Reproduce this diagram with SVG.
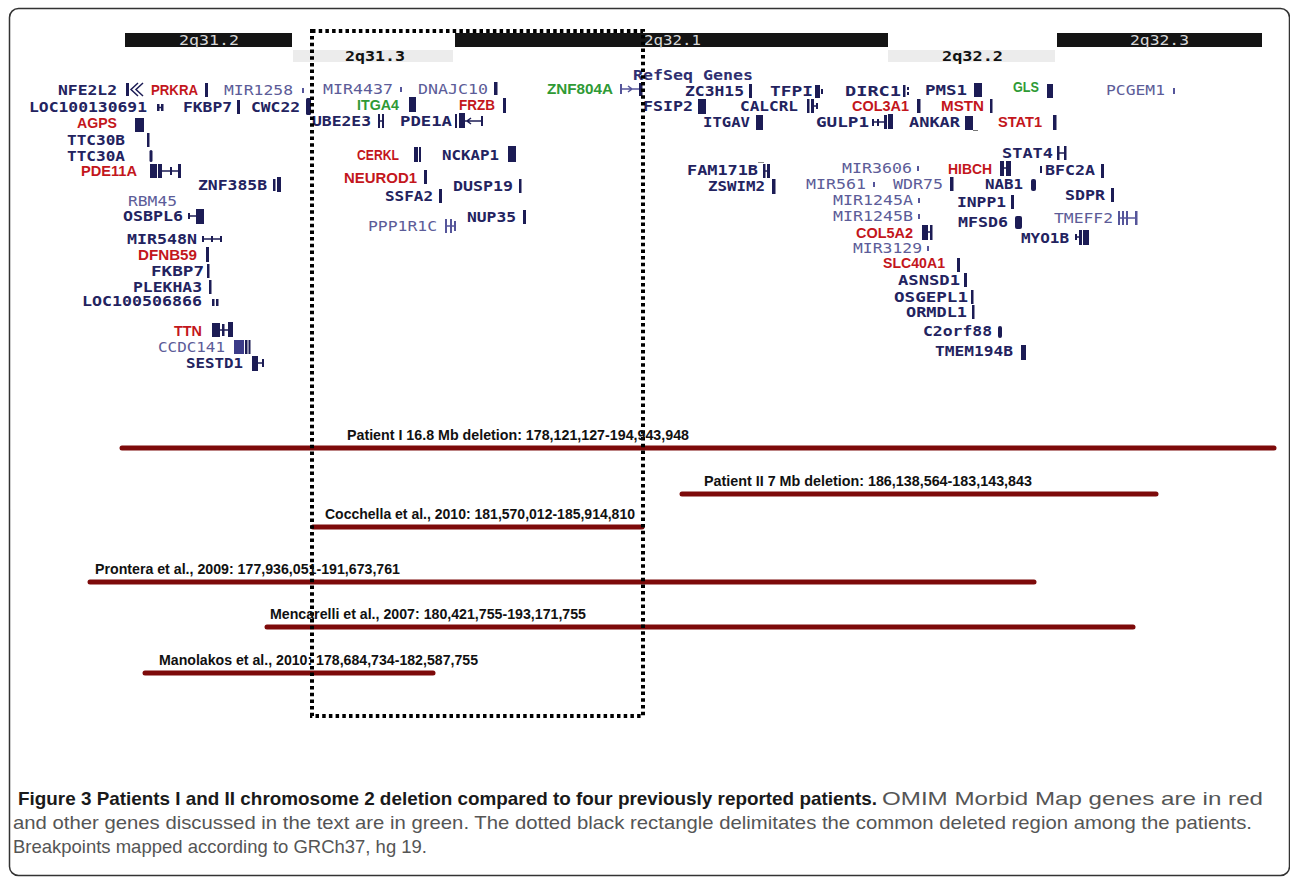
<svg xmlns="http://www.w3.org/2000/svg" width="1290" height="880" viewBox="0 0 1290 880">
<style>
.g{font-family:"DejaVu Sans Mono",monospace;font-weight:bold;font-size:14.5px;fill:#23235f}
.m{font-family:"DejaVu Sans Mono",monospace;font-size:14.5px;fill:#5c5c98}
.r{font-family:"Liberation Sans",Arial,sans-serif;font-weight:bold;font-size:15.5px;fill:#c3161c}
.gr{font-family:"Liberation Sans",Arial,sans-serif;font-weight:bold;font-size:15.5px;fill:#2f9a35}
.ic{fill:#1c1c55}
.icl{fill:#55559a}
.ln{stroke:#1c1c55;stroke-width:1.5;fill:none}
.lnl{stroke:#55559a;stroke-width:1.5;fill:none}
.band{fill:#141414}
.lband{fill:#ececec}
.bt{font-family:"DejaVu Sans Mono",monospace;font-size:14px;fill:#d8d8d8}
.bt2{font-family:"DejaVu Sans Mono",monospace;font-weight:bold;font-size:14px;fill:#111}
.del{stroke:#7d0a0a;stroke-width:5;stroke-linecap:round}
.dl{font-family:"Liberation Sans",Arial,sans-serif;font-weight:bold;font-size:15px;fill:#111}
.cb{font-family:"Liberation Sans",Arial,sans-serif;font-weight:bold;font-size:19px;fill:#1a1a1a}
.cr{font-family:"Liberation Sans",Arial,sans-serif;font-size:19px;fill:#555}
</style>
<rect x="9.5" y="8.5" width="1280" height="867" rx="9" fill="#fff" stroke="#333" stroke-width="1.5"/>

<g id="bands">
<rect class="band" x="125" y="33" width="167" height="14"/>
<text class="bt" x="179" y="45" textLength="60" lengthAdjust="spacingAndGlyphs">2q31.2</text>
<rect class="lband" x="293" y="50" width="160" height="12"/>
<text class="bt2" x="345" y="61" textLength="60" lengthAdjust="spacingAndGlyphs">2q31.3</text>
<rect class="band" x="455" y="33" width="433" height="14"/>
<text class="bt" x="644" y="45" textLength="57" lengthAdjust="spacingAndGlyphs">2q32.1</text>
<rect class="lband" x="888" y="50" width="167" height="12"/>
<text class="bt2" x="942" y="61" textLength="61" lengthAdjust="spacingAndGlyphs">2q32.2</text>
<rect class="band" x="1057" y="33" width="205" height="14"/>
<text class="bt" x="1130" y="45" textLength="59" lengthAdjust="spacingAndGlyphs">2q32.3</text>
</g>

<g id="genes-left">
<g id="gene-NFE2L2"><text class="g" x="58" y="95" textLength="59" lengthAdjust="spacingAndGlyphs">NFE2L2</text><rect class="ic" x="126" y="83" width="3" height="13"/><path class="ln" d="M138,83 L131,89.5 L138,96 M143,83 L136,89.5 L143,96"/></g>
<g id="gene-PRKRA"><text class="r" x="151" y="95" textLength="47" lengthAdjust="spacingAndGlyphs">PRKRA</text><rect class="ic" x="205" y="83" width="3" height="14"/></g>
<g id="gene-MIR1258"><text class="m" x="224" y="95" textLength="69" lengthAdjust="spacingAndGlyphs">MIR1258</text><rect class="icl" x="302" y="88" width="2" height="5"/></g>
<g id="gene-LOC100130691"><text class="g" x="29" y="112" textLength="118" lengthAdjust="spacingAndGlyphs">LOC100130691</text><rect class="ic" x="157" y="104" width="2.5" height="7"/><rect class="ic" x="161" y="104" width="2.5" height="7"/><path class="ln" d="M157,107.5 H163"/></g>
<g id="gene-FKBP7-a"><text class="g" x="183" y="112" textLength="49" lengthAdjust="spacingAndGlyphs">FKBP7</text><rect class="ic" x="237" y="100" width="3" height="14"/></g>
<g id="gene-CWC22"><text class="g" x="251" y="112" textLength="49" lengthAdjust="spacingAndGlyphs">CWC22</text><rect class="ic" x="306" y="98" width="5" height="17" rx="1.5"/></g>
<g id="gene-AGPS"><text class="r" x="77" y="128" textLength="40" lengthAdjust="spacingAndGlyphs">AGPS</text><rect class="ic" x="135" y="118" width="9" height="14"/></g>
<g id="gene-TTC30B"><text class="g" x="67" y="145" textLength="58" lengthAdjust="spacingAndGlyphs">TTC30B</text><rect class="ic" x="147" y="133" width="2.5" height="14"/></g>
<g id="gene-TTC30A"><text class="g" x="67" y="161" textLength="58" lengthAdjust="spacingAndGlyphs">TTC30A</text><rect class="ic" x="149.5" y="150" width="3" height="12" rx="1.5"/></g>
<g id="gene-PDE11A"><text class="r" x="81" y="176" textLength="56" lengthAdjust="spacingAndGlyphs">PDE11A</text><rect class="ic" x="150" y="164" width="7" height="14"/><rect class="ic" x="158" y="164" width="4" height="14"/><path class="ln" d="M162,171 H179"/><rect class="ic" x="178" y="164" width="3" height="14"/><rect class="ic" x="170" y="167" width="2" height="8"/></g>
<g id="gene-ZNF385B"><text class="g" x="198" y="190" textLength="69" lengthAdjust="spacingAndGlyphs">ZNF385B</text><rect class="ic" x="273" y="179" width="2.5" height="12"/><rect class="ic" x="277" y="177" width="4" height="15"/></g>
<g id="gene-RBM45"><text class="m" x="128" y="206" textLength="49" lengthAdjust="spacingAndGlyphs">RBM45</text></g>
<g id="gene-OSBPL6"><text class="g" x="123" y="221" textLength="60" lengthAdjust="spacingAndGlyphs">OSBPL6</text><rect class="ic" x="188" y="213" width="2" height="6"/><path class="ln" d="M188,216 H197"/><rect class="ic" x="196" y="209" width="8" height="15"/></g>
<g id="gene-MIR548N"><text class="g" x="127" y="244" textLength="70" lengthAdjust="spacingAndGlyphs">MIR548N</text><path class="ln" d="M202,239 H222"/><rect class="ic" x="202" y="236" width="2" height="6"/><rect class="ic" x="211" y="236" width="2" height="6"/><rect class="ic" x="220" y="236" width="2" height="6"/></g>
<g id="gene-DFNB59"><text class="r" x="138" y="260" textLength="59" lengthAdjust="spacingAndGlyphs">DFNB59</text><rect class="ic" x="206" y="247" width="3" height="15"/></g>
<g id="gene-FKBP7-b"><text class="g" x="151" y="276" textLength="53" lengthAdjust="spacingAndGlyphs">FKBP7</text><rect class="ic" x="207" y="264" width="2.5" height="14"/></g>
<g id="gene-PLEKHA3"><text class="g" x="133" y="292" textLength="69" lengthAdjust="spacingAndGlyphs">PLEKHA3</text><rect class="ic" x="209" y="280" width="2.5" height="14"/></g>
<g id="gene-LOC100506866"><text class="g" x="82" y="306" textLength="120" lengthAdjust="spacingAndGlyphs">LOC100506866</text><rect class="ic" x="212" y="299" width="2.5" height="7"/><rect class="ic" x="216" y="299" width="2.5" height="7"/></g>
<g id="gene-TTN"><text class="r" x="174" y="336" textLength="28" lengthAdjust="spacingAndGlyphs">TTN</text><rect class="ic" x="212" y="323" width="8" height="14"/><path class="ln" d="M220,330 H230"/><rect class="ic" x="222" y="324" width="2.5" height="12"/><rect class="ic" x="228" y="322" width="5" height="15"/></g>
<g id="gene-CCDC141"><text class="m" x="158" y="352" textLength="67" lengthAdjust="spacingAndGlyphs">CCDC141</text><rect x="234" y="340" width="10" height="14" fill="#3b3b88"/><rect class="ic" x="245" y="340" width="2.5" height="14"/><rect class="ic" x="248.5" y="340" width="2" height="14"/></g>
<g id="gene-SESTD1"><text class="g" x="186" y="368" textLength="57" lengthAdjust="spacingAndGlyphs">SESTD1</text><rect class="ic" x="252" y="356" width="6" height="15"/><path class="ln" d="M258,363 H264"/><rect class="ic" x="262" y="359" width="2" height="8"/></g>
</g>

<g id="genes-middle">
<g id="gene-MIR4437"><text class="m" x="323" y="94" textLength="70" lengthAdjust="spacingAndGlyphs">MIR4437</text><rect class="icl" x="400" y="87" width="2" height="5"/></g>
<g id="gene-DNAJC10"><text class="m" x="418" y="94" textLength="70" lengthAdjust="spacingAndGlyphs">DNAJC10</text><rect class="ic" x="494" y="82" width="3.5" height="13"/></g>
<g id="gene-ZNF804A"><text class="gr" x="547" y="94" textLength="66" lengthAdjust="spacingAndGlyphs">ZNF804A</text><path class="lnl" d="M620,89 H642 M628,86 L632,89 L628,92"/><rect class="icl" x="620" y="84" width="2" height="10"/><rect class="ic" x="639" y="83" width="3.5" height="13"/></g>
<g id="gene-ITGA4"><text class="gr" x="357" y="110" textLength="42" lengthAdjust="spacingAndGlyphs">ITGA4</text><rect class="ic" x="409" y="97" width="7" height="15"/></g>
<g id="gene-FRZB"><text class="r" x="459" y="110" textLength="36" lengthAdjust="spacingAndGlyphs">FRZB</text><rect class="ic" x="503" y="98" width="3" height="15"/></g>
<g id="gene-UBE2E3"><text class="g" x="312" y="126" textLength="59" lengthAdjust="spacingAndGlyphs">UBE2E3</text><rect class="ic" x="378" y="114" width="2" height="14"/><rect class="ic" x="382" y="114" width="2" height="14"/><path class="ln" d="M378,121 H384"/></g>
<g id="gene-PDE1A"><text class="g" x="400" y="126" textLength="52" lengthAdjust="spacingAndGlyphs">PDE1A</text><rect class="ic" x="455" y="114" width="2" height="14"/><rect class="ic" x="459" y="113" width="6" height="15"/><path class="ln" d="M465,121 H483 M471,118 L467,121 L471,124"/><rect class="ic" x="481" y="116" width="2" height="10"/></g>
<g id="gene-CERKL"><text class="r" x="357" y="160" textLength="42" lengthAdjust="spacingAndGlyphs">CERKL</text><rect class="ic" x="414" y="147" width="4" height="15"/><rect class="ic" x="419" y="147" width="2" height="15"/></g>
<g id="gene-NCKAP1"><text class="g" x="442" y="160" textLength="57" lengthAdjust="spacingAndGlyphs">NCKAP1</text><rect class="ic" x="508" y="146" width="8" height="16"/></g>
<g id="gene-NEUROD1"><text class="r" x="344" y="183" textLength="73" lengthAdjust="spacingAndGlyphs">NEUROD1</text><rect class="ic" x="424" y="170" width="3" height="14"/></g>
<g id="gene-DUSP19"><text class="g" x="453" y="191" textLength="60" lengthAdjust="spacingAndGlyphs">DUSP19</text><rect class="ic" x="519" y="179" width="2.5" height="14"/></g>
<g id="gene-SSFA2"><text class="g" x="385" y="201" textLength="48" lengthAdjust="spacingAndGlyphs">SSFA2</text><rect class="ic" x="439" y="189" width="3" height="14"/></g>
<g id="gene-NUP35"><text class="g" x="467" y="222" textLength="49" lengthAdjust="spacingAndGlyphs">NUP35</text><rect class="ic" x="523" y="210" width="3" height="14"/></g>
<g id="gene-PPP1R1C"><text class="m" x="368" y="231" textLength="69" lengthAdjust="spacingAndGlyphs">PPP1R1C</text><rect class="icl" x="445" y="219" width="2" height="14"/><rect class="icl" x="450" y="219" width="2" height="14"/><path class="lnl" d="M445,226 H456"/><rect class="icl" x="454" y="221" width="2" height="10"/></g>
</g>

<g id="genes-right">
<g id="label-refseq"><text class="g" x="633" y="80" textLength="120" lengthAdjust="spacingAndGlyphs" style="fill:#2f2f70">RefSeq Genes</text></g>
<g id="gene-ZC3H15"><text class="g" x="685" y="96" textLength="59" lengthAdjust="spacingAndGlyphs">ZC3H15</text><rect class="ic" x="749" y="84" width="3" height="14"/></g>
<g id="gene-TFPI"><text class="g" x="770" y="96" textLength="43" lengthAdjust="spacingAndGlyphs">TFPI</text><rect class="ic" x="815" y="85" width="5" height="13"/><rect class="ic" x="821" y="89" width="2" height="5"/></g>
<g id="gene-DIRC1"><text class="g" x="845" y="96" textLength="56" lengthAdjust="spacingAndGlyphs">DIRC1</text><rect class="ic" x="903" y="85" width="2.5" height="12"/><rect class="ic" x="907" y="87" width="2" height="3"/><rect class="ic" x="907" y="92" width="2" height="3"/></g>
<g id="gene-PMS1"><text class="g" x="925" y="95" textLength="42" lengthAdjust="spacingAndGlyphs">PMS1</text><rect class="ic" x="974" y="83" width="8" height="14"/></g>
<g id="gene-GLS"><text class="gr" x="1013" y="92" textLength="26" lengthAdjust="spacingAndGlyphs">GLS</text><rect class="ic" x="1047" y="84" width="6" height="14"/></g>
<g id="gene-PCGEM1"><text class="m" x="1106" y="95" textLength="59" lengthAdjust="spacingAndGlyphs">PCGEM1</text><rect class="icl" x="1173" y="88" width="2" height="6"/></g>
<g id="gene-FSIP2"><text class="g" x="643" y="111" textLength="50" lengthAdjust="spacingAndGlyphs">FSIP2</text><rect class="ic" x="698" y="99" width="8" height="15"/></g>
<g id="gene-CALCRL"><text class="g" x="740" y="111" textLength="58" lengthAdjust="spacingAndGlyphs">CALCRL</text><rect class="ic" x="807" y="99" width="2.5" height="14"/><rect class="ic" x="811" y="99" width="3" height="14"/><path class="ln" d="M811,106 H818"/><rect class="ic" x="816" y="103" width="2" height="6"/></g>
<g id="gene-COL3A1"><text class="r" x="852" y="111" textLength="57" lengthAdjust="spacingAndGlyphs">COL3A1</text><rect class="ic" x="917" y="99" width="3.5" height="14"/></g>
<g id="gene-MSTN"><text class="r" x="941" y="111" textLength="43" lengthAdjust="spacingAndGlyphs">MSTN</text><rect class="ic" x="990" y="99" width="2.5" height="14"/></g>
<g id="gene-ITGAV"><text class="g" x="703" y="127" textLength="47" lengthAdjust="spacingAndGlyphs">ITGAV</text><rect class="ic" x="756" y="115" width="7" height="15"/></g>
<g id="gene-GULP1"><text class="g" x="816" y="127" textLength="53" lengthAdjust="spacingAndGlyphs">GULP1</text><rect class="ic" x="872" y="119" width="2" height="7"/><path class="ln" d="M872,122 H886"/><rect class="ic" x="877" y="119" width="2" height="7"/><rect class="ic" x="884" y="115" width="3" height="14"/><rect class="ic" x="888" y="114" width="5" height="15"/></g>
<g id="gene-ANKAR"><text class="g" x="909" y="127" textLength="51" lengthAdjust="spacingAndGlyphs">ANKAR</text><rect class="ic" x="965" y="116" width="8" height="14"/><path stroke="#777" stroke-width="1" d="M973,130.5 H978"/></g>
<g id="gene-STAT1"><text class="r" x="998" y="127" textLength="44" lengthAdjust="spacingAndGlyphs">STAT1</text><rect class="ic" x="1053" y="115" width="3.5" height="15"/></g>
<g id="gene-FAM171B"><text class="g" x="687" y="175" textLength="71" lengthAdjust="spacingAndGlyphs">FAM171B</text><rect class="ic" x="763" y="164" width="2.5" height="14"/><rect class="ic" x="767" y="164" width="3" height="14"/><path class="ln" d="M763,171 H770"/><path stroke="#888" stroke-width="1" d="M758,162.5 H764"/></g>
<g id="gene-ZSWIM2"><text class="g" x="708" y="191" textLength="57" lengthAdjust="spacingAndGlyphs">ZSWIM2</text><rect class="ic" x="772" y="179" width="3.5" height="15"/></g>
<g id="gene-MIR3606"><text class="m" x="842" y="173" textLength="70" lengthAdjust="spacingAndGlyphs">MIR3606</text><rect class="icl" x="917" y="166" width="2" height="5"/></g>
<g id="gene-HIBCH"><text class="r" x="948" y="174" textLength="44" lengthAdjust="spacingAndGlyphs">HIBCH</text><rect class="ic" x="1000" y="161" width="4" height="15"/><rect class="ic" x="1006" y="161" width="5" height="15"/><path class="ln" d="M1000,168 H1011"/></g>
<g id="gene-STAT4"><text class="g" x="1002" y="158" textLength="51" lengthAdjust="spacingAndGlyphs">STAT4</text><rect class="ic" x="1057" y="146" width="2.5" height="14"/><rect class="ic" x="1064" y="146" width="2.5" height="14"/><path class="ln" d="M1057,153 H1066"/></g>
<g id="gene-OBFC2A"><rect class="ic" x="1040" y="166" width="2" height="7"/><text class="g" x="1045" y="175" textLength="50" lengthAdjust="spacingAndGlyphs">BFC2A</text><rect class="ic" x="1101" y="164" width="3" height="14"/></g>
<g id="gene-MIR561"><text class="m" x="806" y="189" textLength="60" lengthAdjust="spacingAndGlyphs">MIR561</text><rect class="icl" x="873" y="182" width="2" height="5"/></g>
<g id="gene-WDR75"><text class="m" x="893" y="189" textLength="50" lengthAdjust="spacingAndGlyphs">WDR75</text><rect class="ic" x="950" y="177" width="3.5" height="14"/></g>
<g id="gene-NAB1"><text class="g" x="985" y="189" textLength="38" lengthAdjust="spacingAndGlyphs">NAB1</text><rect class="ic" x="1031" y="179" width="5" height="12" rx="2"/></g>
<g id="gene-SDPR"><text class="g" x="1065" y="200" textLength="40" lengthAdjust="spacingAndGlyphs">SDPR</text><rect class="ic" x="1111" y="188" width="3" height="14"/></g>
<g id="gene-MIR1245A"><text class="m" x="833" y="205" textLength="80" lengthAdjust="spacingAndGlyphs">MIR1245A</text><rect class="icl" x="918" y="198" width="2" height="5"/></g>
<g id="gene-INPP1"><text class="g" x="957" y="207" textLength="49" lengthAdjust="spacingAndGlyphs">INPP1</text><rect class="ic" x="1011" y="195" width="3" height="14"/></g>
<g id="gene-TMEFF2"><text class="m" x="1054" y="223" textLength="59" lengthAdjust="spacingAndGlyphs">TMEFF2</text><rect class="icl" x="1118" y="211" width="2" height="14"/><rect class="icl" x="1122" y="211" width="2" height="14"/><rect class="icl" x="1126" y="211" width="2" height="14"/><path class="lnl" d="M1118,218 H1137"/><rect class="icl" x="1135" y="211" width="2.5" height="14"/></g>
<g id="gene-MIR1245B"><text class="m" x="833" y="221" textLength="80" lengthAdjust="spacingAndGlyphs">MIR1245B</text><rect class="icl" x="918" y="214" width="2" height="5"/></g>
<g id="gene-MFSD6"><text class="g" x="958" y="227" textLength="50" lengthAdjust="spacingAndGlyphs">MFSD6</text><rect class="ic" x="1015" y="216" width="7" height="13" rx="2"/></g>
<g id="gene-MYO1B"><text class="g" x="1021" y="243" textLength="48" lengthAdjust="spacingAndGlyphs">MYO1B</text><rect class="ic" x="1075" y="234" width="2" height="6"/><path class="ln" d="M1075,237 H1080"/><rect class="ic" x="1079" y="230" width="3" height="15"/><rect class="ic" x="1083" y="230" width="6" height="15"/></g>
<g id="gene-COL5A2"><text class="r" x="856" y="238" textLength="57" lengthAdjust="spacingAndGlyphs">COL5A2</text><rect class="ic" x="922" y="225" width="6" height="15"/><rect class="ic" x="930" y="225" width="2.5" height="15"/><path class="ln" d="M928,232 H931"/></g>
<g id="gene-MIR3129"><text class="m" x="853" y="253" textLength="69" lengthAdjust="spacingAndGlyphs">MIR3129</text><rect class="icl" x="927" y="246" width="2" height="5"/></g>
<g id="gene-SLC40A1"><text class="r" x="883" y="268" textLength="62" lengthAdjust="spacingAndGlyphs">SLC40A1</text><rect class="ic" x="957" y="258" width="3" height="14"/></g>
<g id="gene-ASNSD1"><text class="g" x="898" y="285" textLength="62" lengthAdjust="spacingAndGlyphs">ASNSD1</text><rect class="ic" x="964" y="273" width="3" height="14"/></g>
<g id="gene-OSGEPL1"><text class="g" x="894" y="302" textLength="74" lengthAdjust="spacingAndGlyphs">OSGEPL1</text><rect class="ic" x="971" y="290" width="2.5" height="14"/></g>
<g id="gene-ORMDL1"><text class="g" x="906" y="317" textLength="61" lengthAdjust="spacingAndGlyphs">ORMDL1</text><rect class="ic" x="972" y="305" width="2.5" height="14"/></g>
<g id="gene-C2orf88"><text class="g" x="923" y="336" textLength="69" lengthAdjust="spacingAndGlyphs">C2orf88</text><rect class="ic" x="998" y="326" width="4" height="12" rx="2"/></g>
<g id="gene-TMEM194B"><text class="g" x="935" y="356" textLength="78" lengthAdjust="spacingAndGlyphs">TMEM194B</text><rect class="ic" x="1021" y="345" width="5" height="15"/></g>
</g>

<g id="connectors">
<line class="del" x1="122" y1="448" x2="1274" y2="448"/>
<line class="del" x1="682" y1="494" x2="1156" y2="494"/>
<line class="del" x1="313" y1="527" x2="642" y2="527"/>
<line class="del" x1="90" y1="582" x2="1034" y2="582"/>
<line class="del" x1="267" y1="627" x2="1133" y2="627"/>
<line class="del" x1="145" y1="673" x2="433" y2="673"/>
<rect x="312" y="31" width="331" height="685" fill="none" stroke="#000" stroke-width="4" stroke-dasharray="3.5 3.2"/>
</g>

<g id="deletion-labels">
<text class="dl" x="347" y="440" textLength="342" lengthAdjust="spacingAndGlyphs">Patient I 16.8 Mb deletion: 178,121,127-194,943,948</text>
<text class="dl" x="704" y="486" textLength="328" lengthAdjust="spacingAndGlyphs">Patient II 7 Mb deletion: 186,138,564-183,143,843</text>
<text class="dl" x="325" y="519" textLength="310" lengthAdjust="spacingAndGlyphs">Cocchella et al., 2010: 181,570,012-185,914,810</text>
<text class="dl" x="95" y="574" textLength="305" lengthAdjust="spacingAndGlyphs">Prontera et al., 2009: 177,936,051-191,673,761</text>
<text class="dl" x="270" y="619" textLength="316" lengthAdjust="spacingAndGlyphs">Mencarelli et al., 2007: 180,421,755-193,171,755</text>
<text class="dl" x="159" y="665" textLength="319" lengthAdjust="spacingAndGlyphs">Manolakos et al., 2010: 178,684,734-182,587,755</text>
</g>

<g id="caption">
<text class="cb" x="18" y="805" textLength="859" lengthAdjust="spacingAndGlyphs">Figure 3 Patients I and II chromosome 2 deletion compared to four previously reported patients.</text>
<text class="cr" x="882" y="805" textLength="381" lengthAdjust="spacingAndGlyphs">OMIM Morbid Map genes are in red</text>
<text class="cr" x="13" y="829" textLength="1239" lengthAdjust="spacingAndGlyphs">and other genes discussed in the text are in green. The dotted black rectangle delimitates the common deleted region among the patients.</text>
<text class="cr" x="13" y="853" textLength="414" lengthAdjust="spacingAndGlyphs">Breakpoints mapped according to GRCh37, hg 19.</text>
</g>
</svg>
